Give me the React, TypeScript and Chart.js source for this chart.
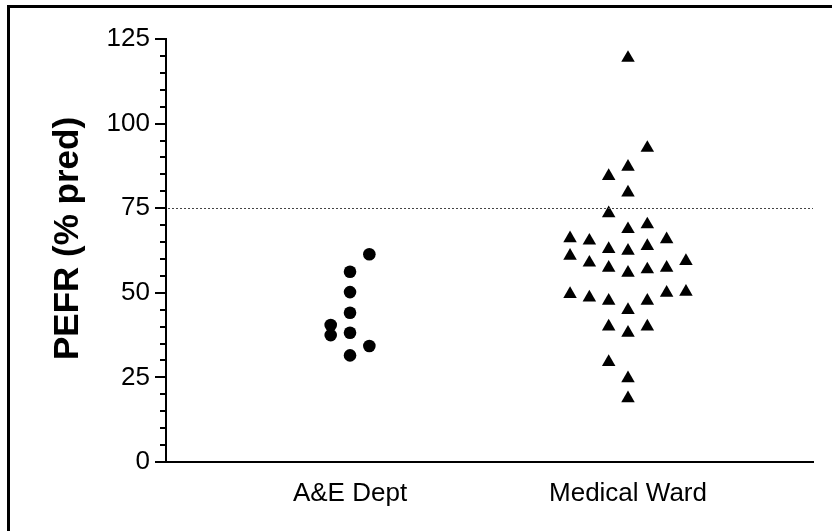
import React, { useEffect, useRef } from 'react';
import { Chart, registerables } from 'chart.js';

Chart.register(...registerables);

// ---- data ----
const categories = ['A&E Dept', 'Medical Ward'];
const yTickValues = [0, 25, 50, 75, 100, 125];
const referenceLine = 75;
const yTitle = 'PEFR (% pred)';

// A&E Dept (circles): values and their swarm column (-1, 0, +1)
const aeValues = [61.4, 56.2, 50.2, 44.1, 40.5, 37.5, 38.2, 34.3, 31.5];
const aeColumns = [1, 0, 0, 0, -1, -1, 0, 1, 0];

// Medical Ward (triangles): values and their swarm column (-3 .. +3)
const wardValues = [
  119.4, 92.8, 87.2, 84.5, 79.6, 73.5, 68.8, 70.2,
  66.1, 65.4, 62.9, 62.4, 63.8, 65.8,
  60.9, 58.9, 57.4, 55.9, 56.9, 57.4, 59.4,
  49.6, 48.6, 47.6, 44.9, 47.6, 50.0, 50.3,
  40.0, 38.2, 40.0, 29.5, 24.7, 18.8,
];
const wardColumns = [
  0, 1, 0, -1, 0, -1, 0, 1,
  -3, -2, -1, 0, 1, 2,
  -3, -2, -1, 0, 1, 2, 3,
  -3, -2, -1, 0, 1, 2, 3,
  -1, 0, 1, -1, 0, 0,
];

const COL_STEP = 0.0695;
const FONT = '"Liberation Sans", Arial, sans-serif';

const extrasPlugin = {
  id: 'extras',
  afterDraw(chart: any) {
    const { ctx, chartArea, scales } = chart;
    const y = scales.y;
    ctx.save();
    // minor ticks
    ctx.strokeStyle = '#000';
    ctx.lineWidth = 2;
    for (let v = 0; v <= 125; v += 5) {
      if (v % 25 === 0) continue;
      const py = Math.round(y.getPixelForValue(v));
      ctx.beginPath();
      ctx.moveTo(chartArea.left - 6, py);
      ctx.lineTo(chartArea.left, py);
      ctx.stroke();
    }
    // dotted reference line
    const ry = Math.round(y.getPixelForValue(referenceLine)) + 0.5;
    ctx.strokeStyle = '#444';
    ctx.lineWidth = 1;
    ctx.setLineDash([2, 2]);
    ctx.beginPath();
    ctx.moveTo(chartArea.left + 2, ry);
    ctx.lineTo(chartArea.right, ry);
    ctx.stroke();
    ctx.setLineDash([]);
    // y title
    ctx.translate(68, (chartArea.top + chartArea.bottom) / 2 - 12);
    ctx.rotate(-Math.PI / 2);
    ctx.fillStyle = '#000';
    ctx.font = 'bold 35px ' + FONT;
    ctx.textAlign = 'center';
    ctx.textBaseline = 'middle';
    ctx.fillText(yTitle, 0, 0);
    ctx.restore();
  },
};

export default function App() {
  const canvasRef = useRef<HTMLCanvasElement | null>(null);

  useEffect(() => {
    if (!canvasRef.current) return;
    const chart = new Chart(canvasRef.current, {
      type: 'scatter',
      data: {
        datasets: [
          {
            label: categories[0],
            data: aeValues.map((v, i) => ({ x: 1 + aeColumns[i] * COL_STEP, y: v })),
            pointStyle: 'circle',
            pointRadius: 6.3,
            backgroundColor: '#000',
            borderColor: '#000',
            borderWidth: 0,
          },
          {
            label: categories[1],
            data: wardValues.map((v, i) => ({ x: 2 + wardColumns[i] * COL_STEP, y: v })),
            pointStyle: 'triangle',
            pointRadius: 7.8,
            backgroundColor: '#000',
            borderColor: '#000',
            borderWidth: 0,
          },
        ],
      },
      options: {
        animation: false,
        responsive: true,
        maintainAspectRatio: false,
        layout: { padding: { left: 0, top: 39, right: 19, bottom: 0 } },
        plugins: { legend: { display: false }, tooltip: { enabled: false } },
        scales: {
          x: {
            type: 'linear',
            min: 0.338,
            max: 2.6655,
            afterBuildTicks: (scale: any) => {
              scale.ticks = [{ value: 1 }, { value: 2 }];
            },
            afterFit: (scale: any) => {
              scale.height = 69;
            },
            ticks: {
              callback: (v: any) => categories[Math.round(v) - 1] ?? '',
              font: { family: FONT, size: 26 },
              color: '#000',
              padding: 16,
              maxRotation: 0,
              autoSkip: false,
            },
            grid: { display: false, drawTicks: false },
            border: { display: true, color: '#000', width: 2 },
          },
          y: {
            type: 'linear',
            min: 0,
            max: 125,
            afterBuildTicks: (scale: any) => {
              scale.ticks = yTickValues.map((v) => ({ value: v }));
            },
            afterFit: (scale: any) => {
              scale.width = 166;
            },
            ticks: {
              font: { family: FONT, size: 26 },
              color: '#000',
              padding: 5,
            },
            grid: {
              drawOnChartArea: false,
              drawTicks: true,
              tickLength: 11,
              color: '#000',
              lineWidth: 2,
            },
            border: { display: true, color: '#000', width: 2 },
          },
        },
      },
      plugins: [extrasPlugin],
    });
    return () => chart.destroy();
  }, []);

  return (
    <div style={{ position: 'absolute', left: 0, top: 0, width: 832, height: 531, background: '#fff' }}>
      <div
        style={{
          position: 'absolute',
          left: 7,
          top: 5,
          width: 825,
          height: 526,
          borderTop: '3px solid #000',
          borderLeft: '3px solid #000',
          boxSizing: 'border-box',
        }}
      />
      <canvas ref={canvasRef} style={{ position: 'absolute', left: 0, top: 0 }} />
    </div>
  );
}
